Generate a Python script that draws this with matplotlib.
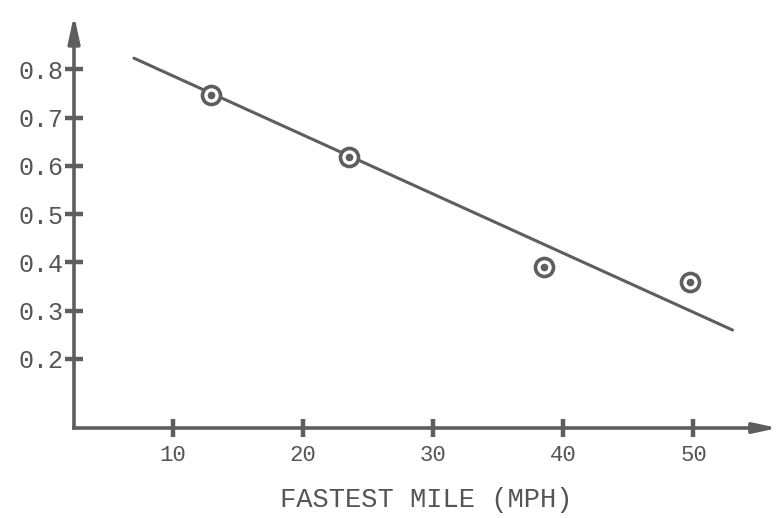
from matplotlib import pyplot as plt

# measured points (fastest mile vs. ratio)
speed_mph = [12.9, 23.5, 38.5, 49.7]
ratio_vals = [0.746, 0.618, 0.39, 0.36]

# fitted line end points
fit_x = [7.0, 53.0]
fit_y = [0.823, 0.26]

x_ticks = [10, 20, 30, 40, 50]
y_ticks = [0.2, 0.3, 0.4, 0.5, 0.6, 0.7, 0.8]

ink = '#5e5e5e'
text_col = '#555555'
plt.rcParams['font.family'] = ['Liberation Mono', 'DejaVu Sans Mono']

fig = plt.figure(figsize=(7.81, 5.18), dpi=100)
ax = fig.add_axes([0.0948, 0.1737, 0.9014, 0.797])

x0, x1 = 2.4, 56.5
y0, y1 = 0.057, 0.912
ax.set_xlim(x0, x1)
ax.set_ylim(y0, y1)

# the fitted line and the ringed points
ax.plot(fit_x, fit_y, color=ink, lw=2.2, solid_capstyle='round')
ax.plot(speed_mph, ratio_vals, 'o', ms=13, mfc='white', mec=ink, mew=2.6)
ax.plot(speed_mph, ratio_vals, 'o', ms=4.5, color=ink)

# axes drawn as arrows
for s in ['top', 'right']:
    ax.spines[s].set_visible(False)
for s in ['left', 'bottom']:
    ax.spines[s].set_color(ink)
    ax.spines[s].set_linewidth(2.6)
ax.spines['left'].set_bounds(y0, y1 - 0.04)
ax.spines['bottom'].set_bounds(x0, x1 - 1.5)
ax.annotate('', xy=(x0, y1), xytext=(x0, y1 - 0.05),
            arrowprops=dict(arrowstyle='-|>,head_length=1.6,head_width=0.35',
                            color=ink, lw=2.6, shrinkA=0, shrinkB=0),
            annotation_clip=False)
ax.annotate('', xy=(x1, y0), xytext=(x1 - 2, y0),
            arrowprops=dict(arrowstyle='-|>,head_length=1.4,head_width=0.3',
                            color=ink, lw=2.6, shrinkA=0, shrinkB=0),
            annotation_clip=False)

ax.set_xticks(x_ticks)
ax.set_xticklabels([str(v) for v in x_ticks])
ax.set_yticks(y_ticks)
ax.set_yticklabels(['%.1f' % v for v in y_ticks])
ax.tick_params(axis='both', direction='inout', length=13, width=3.2,
               color=ink, labelcolor=text_col)
ax.tick_params(axis='x', pad=6, labelsize=16)
ax.tick_params(axis='y', pad=1, labelsize=18)

ax.set_xlabel('FASTEST MILE (MPH)', fontsize=19.5, color=text_col, labelpad=15)

fig.savefig('out.png', dpi=100, facecolor='white')
